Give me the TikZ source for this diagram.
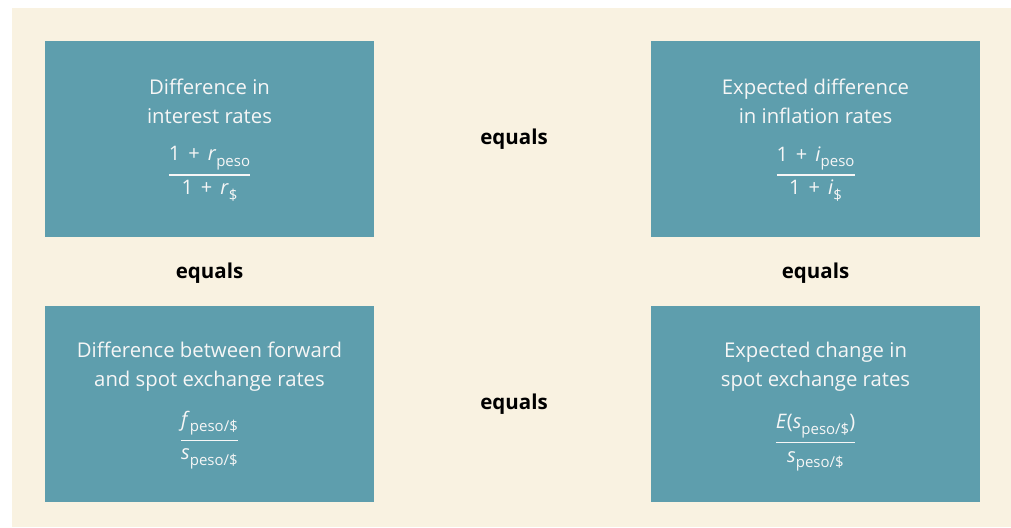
\documentclass[tikz,border=0pt]{standalone}
\usepackage{fontspec}
\setmainfont{Open Sans}
\definecolor{cream}{HTML}{F9F2E1}
\definecolor{boxteal}{HTML}{5E9EAD}
\definecolor{boxtext}{HTML}{F6F6F6}
\newcommand{\vfrac}[2]{$\displaystyle{\mbox{#1}\above 1.4pt\mbox{#2}}$}
\newcommand{\plusop}{\hspace{0.4em}+\hspace{0.4em}}
\newcommand{\sbx}[1]{\raisebox{-0.28em}{\fontsize{15}{15}\selectfont #1}}
\tikzset{
  panel/.style={fill=boxteal, draw=none, minimum width=329pt, minimum height=196pt, inner sep=0pt},
  title/.style={text=boxtext, font=\fontsize{20.3}{29}\selectfont, align=center},
  fracnode/.style={text=boxtext, font=\fontsize{20}{24}\selectfont, inner sep=0pt},
  eqlabel/.style={font=\fontsize{20.5}{24}\selectfont\bfseries, text=black}
}
\begin{document}
\begin{tikzpicture}[x=1pt,y=-1pt]
\useasboundingbox (0,0) rectangle (1011,527);
\fill[cream] (12,8) rectangle (1011,527);
% panels
\node[panel] (tl) at (209.5,139) {};
\node[panel] (tr) at (815.5,139) {};
\node[panel] (bl) at (209.5,404) {};
\node[panel] (br) at (815.5,404) {};
% titles
\node[title] (tlt) at ([yshift=-60.5pt]tl.north) {Difference in\\interest rates};
\node[title] (trt) at ([yshift=-60.5pt]tr.north) {Expected difference\\in inflation rates};
\node[title] (blt) at ([yshift=-60.5pt]bl.north) {Difference between forward\\and spot exchange rates};
\node[title] (brt) at ([yshift=-60.5pt]br.north) {Expected change in\\spot exchange rates};
% fractions
\node[fracnode] (tlf) at ([yshift=-133pt]tl.north) {\vfrac{1\plusop\textit{r}\sbx{peso}}{1\plusop\textit{r}\sbx{\$}}};
\node[fracnode] (trf) at ([yshift=-133pt]tr.north) {\vfrac{1\plusop\textit{i}\sbx{peso}}{1\plusop\textit{i}\sbx{\$}}};
\node[fracnode] (blf) at ([yshift=-134pt]bl.north) {\vfrac{\textit{f}\sbx{peso/\$}}{\textit{s}\sbx{peso/\$}}};
\node[fracnode] (brf) at ([yshift=-137pt]br.north) {\vfrac{\textit{E}(\textit{s}\sbx{peso/\$})}{\textit{s}\sbx{peso/\$}}};
% equals labels
\node[eqlabel] (eqt) at (514,139.5) {equals};
\node[eqlabel] (eql) at (209.5,273.5) {equals};
\node[eqlabel] (eqr) at (815.5,273.5) {equals};
\node[eqlabel] (eqb) at (514,404.5) {equals};
\end{tikzpicture}
\end{document}
